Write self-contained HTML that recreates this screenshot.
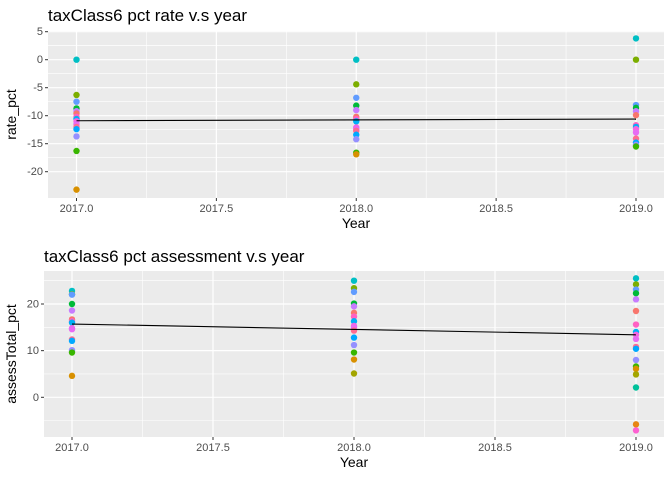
<!DOCTYPE html>
<html><head><meta charset="utf-8"><style>
body{margin:0;background:#fff;}
svg{display:block;font-family:"Liberation Sans",Arial,sans-serif;}
</style></head><body>
<svg id="chart" width="672" height="480"></svg>
<script>
const years=[2017,2018,2019];
const rate2017=[0,-6.3,-7.5,-8.7,-9.2,-9.6,-10.2,-10.6,-11.0,-11.5,-12.0,-12.4,-13.7,-16.3,-23.2];
const rate2018=[0,-4.4,-6.8,-8.2,-9.0,-10.2,-10.6,-11.0,-12.1,-12.4,-12.7,-13.4,-14.2,-16.6,-16.9];
const rate2019=[3.8,0,-8.1,-8.6,-9.2,-9.9,-11.7,-12.0,-12.4,-13.0,-14.1,-14.8,-15.2,-15.5];
const assess2017=[22.8,22.1,22.0,20.0,18.6,16.7,16.3,16.0,14.8,14.6,12.4,12.1,10.1,9.6,4.6];
const assess2018=[25.0,23.4,22.6,20.1,19.5,18.1,17.3,16.3,15.3,15.0,14.3,12.8,11.2,9.6,8.1,5.1];
const assess2019=[25.5,24.2,23.1,22.3,21.0,18.5,15.6,14.0,13.4,12.5,10.8,10.4,8.0,6.6,6.1,4.9,2.1,-5.8,-7.1];
const rateFit=[-10.9,-10.6];
const assessFit=[15.7,13.4];
const rateTicks=[5,0,-5,-10,-15,-20];
const assessTicks=[0,10,20];
const xTicks=[2017.0,2017.5,2018.0,2018.5,2019.0];
const palette=["#00BFC4","#7CAE00","#619CFF","#00BA38","#C77CFF","#F8766D","#FF61C3","#00B0F6","#F564E3","#E76BF3","#FF6C91","#00A9FF","#9590FF","#39B600","#D89000","#A3A500","#00C19A","#E68613","#FD61D1"];
const NS="http://www.w3.org/2000/svg";
const svg=document.getElementById('chart');
function mk(tag,attrs,parent){const e=document.createElementNS(NS,tag);for(const k in attrs)e.setAttribute(k,attrs[k]);(parent||svg).appendChild(e);return e;}

function panel(o){
  const g=mk('g',{});
  
  
  const xs=v=>o.x0+(v-2017)/2*(o.x1-o.x0);
  const ys=v=>o.yA+(v-o.vA)*(o.yB-o.yA)/(o.vB-o.vA);
  const bg=mk('rect',{x:o.left,y:o.top,width:o.right-o.left,height:o.bottom-o.top,fill:'#EBEBEB'},g);
  
  
  // minor grid
  for(let i=0;i<o.ticks.length-1;i++){
    const v=(o.ticks[i]+o.ticks[i+1])/2;
    mk('line',{x1:o.left,x2:o.right,y1:ys(v),y2:ys(v),stroke:'#fff','stroke-width':0.6},g);
  }
  if(o.extraMinor)o.extraMinor.forEach(v=>mk('line',{x1:o.left,x2:o.right,y1:ys(v),y2:ys(v),stroke:'#fff','stroke-width':0.6},g));
  for(let i=0;i<xTicks.length-1;i++){
    const v=(xTicks[i]+xTicks[i+1])/2;
    mk('line',{x1:xs(v),x2:xs(v),y1:o.top,y2:o.bottom,stroke:'#fff','stroke-width':0.6},g);
  }
  // major grid + ticks
  o.ticks.forEach(v=>{
    const y=ys(v);
    mk('line',{x1:o.left,x2:o.right,y1:y,y2:y,stroke:'#fff','stroke-width':1.2},g);
    mk('line',{x1:o.left-3,x2:o.left,y1:y,y2:y,stroke:'#333','stroke-width':1},g);
    const t=mk('text',{x:o.left-5,y:y+3.5,'text-anchor':'end','font-size':'11',fill:'#4D4D4D'},g);
    t.textContent=v;
    
    
  });
  xTicks.forEach(v=>{
    const x=xs(v);
    mk('line',{x1:x,x2:x,y1:o.top,y2:o.bottom,stroke:'#fff','stroke-width':1.2},g);
    mk('line',{x1:x,x2:x,y1:o.bottom,y2:o.bottom+3,stroke:'#333','stroke-width':1},g);
    const t=mk('text',{x:x,y:o.bottom+14,'text-anchor':'middle','font-size':'11',fill:'#4D4D4D'},g);
    t.textContent=v.toFixed(1);
    
    
  });
  // points
  o.series.forEach((arr,si)=>{
    arr.forEach((v,i)=>{
      const c=mk('circle',{cx:xs(years[si]),cy:ys(v),r:3.2,fill:palette[i%palette.length]},g);
      
      
    });
  });
  const l=mk('line',{x1:xs(2017),x2:xs(2019),y1:ys(o.fit[0]),y2:ys(o.fit[1]),stroke:'#000','stroke-width':1.1},g);
  
  
  const tt=mk('text',{x:o.left,y:o.titleY,'font-size':'17',fill:'#000'},g);
  tt.textContent=o.title;
  
  
  const xt=mk('text',{x:(o.left+o.right)/2,y:o.bottom+30,'text-anchor':'middle','font-size':'14',fill:'#000'},g);
  xt.textContent='Year';
  
  
  const cy=(o.top+o.bottom)/2;
  const yt=mk('text',{x:o.ylabX,y:cy,'text-anchor':'middle','font-size':'14',fill:'#000',transform:`rotate(-90 ${o.ylabX} ${cy})`},g);
  yt.textContent=o.ylab;
  
  
}
panel({name:'rate-panel',left:48,right:664,top:31,bottom:198,x0:76.5,x1:636,vA:0,yA:59.7,vB:-20,yB:171.7,
  ticks:rateTicks,extraMinor:[2.5-0],series:[rate2017,rate2018,rate2019],fit:rateFit,
  title:'taxClass6 pct rate v.s year',titleY:21,ylab:'rate_pct',ylabX:16});
panel({name:'assess-panel',left:44,right:664,top:271,bottom:437,x0:72,x1:636,vA:0,yA:397.3,vB:20,yB:304,
  ticks:assessTicks,extraMinor:[-5,25],series:[assess2017,assess2018,assess2019],fit:assessFit,
  title:'taxClass6 pct assessment v.s year',titleY:262,ylab:'assessTotal_pct',ylabX:16});
</script>
</body></html>
